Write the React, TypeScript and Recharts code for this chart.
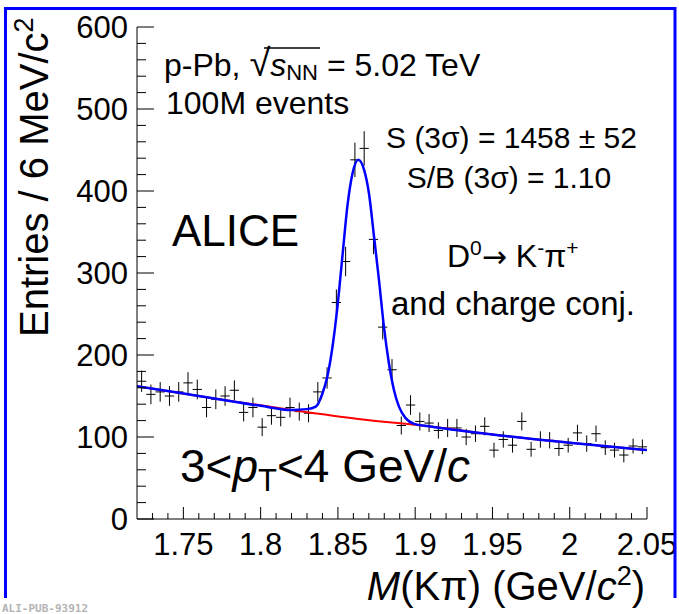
import React from 'react'
import { ComposedChart, XAxis, YAxis, Line, Scatter, ErrorBar } from 'recharts'

// histogram: bin centres (6 MeV bins), entries, stat. errors
const massBins = [
  1.723, 1.729, 1.735, 1.741, 1.747, 1.753, 1.759, 1.765, 1.771, 1.777,
  1.783, 1.789, 1.795, 1.801, 1.807, 1.813, 1.819, 1.825, 1.831, 1.837,
  1.843, 1.849, 1.855, 1.861, 1.867, 1.873, 1.879, 1.885, 1.891, 1.897,
  1.903, 1.909, 1.915, 1.921, 1.927, 1.933, 1.939, 1.945, 1.951, 1.957,
  1.963, 1.969, 1.975, 1.981, 1.987, 1.993, 1.999, 2.005, 2.011, 2.017,
  2.023, 2.029, 2.035, 2.041, 2.047,
]
const entries = [
  168, 152, 155, 150, 155, 166, 158, 136, 146, 150,
  157, 130, 136, 112, 126, 124, 136, 131, 129, 155,
  172, 264, 314, 438, 452, 341, 234, 182, 114, 139,
  119, 117, 108, 111, 111, 100, 104, 113, 84, 97,
  90, 119, 85, 97, 96, 86, 90, 105, 92, 104,
  87, 84, 78, 89, 88,
]
const entryErrors = [
  13, 12, 12, 12, 12, 13, 12, 12, 12, 12,
  12, 11, 12, 11, 11, 11, 12, 11, 11, 12,
  13, 16, 18, 21, 21, 18, 15, 13, 11, 12,
  11, 11, 10, 11, 11, 10, 10, 11, 9, 10,
  9, 11, 9, 10, 10, 9, 9, 10, 10, 10,
  9, 9, 9, 9, 9,
]
const halfBin = 0.003

// fit curves
const fitMass = [
  1.72, 1.77, 1.8, 1.82, 1.83, 1.8357, 1.84, 1.8432, 1.8465, 1.8497,
  1.8529, 1.8561, 1.8594, 1.8632, 1.8669, 1.8701, 1.8734, 1.8766, 1.8798, 1.883,
  1.8863, 1.8895, 1.8938, 1.8992, 1.9088, 1.95, 2.0, 2.05,
]
const fitTotal = [
  162, 147, 138, 133, 134, 137, 153, 174, 210, 259,
  320, 381, 421, 438, 426, 397, 344, 291, 234, 190,
  157, 137, 123, 116, 113, 103, 93, 84,
]
const bkgMass = [1.72, 1.77, 1.82, 1.8632, 1.9088, 1.95, 2.0, 2.05]
const bkgValues = [162, 147, 133, 122, 113, 103, 93, 84]

const xMajorTicks = [1.75, 1.8, 1.85, 1.9, 1.95, 2, 2.05]
const xTicks = [
  1.73, 1.74, 1.75, 1.76, 1.77, 1.78, 1.79, 1.8, 1.81, 1.82, 1.83, 1.84, 1.85,
  1.86, 1.87, 1.88, 1.89, 1.9, 1.91, 1.92, 1.93, 1.94, 1.95, 1.96, 1.97, 1.98,
  1.99, 2, 2.01, 2.02, 2.03, 2.04, 2.05,
]
const yMajorTicks = [0, 100, 200, 300, 400, 500, 600]
const yTicks = [
  0, 20, 40, 60, 80, 100, 120, 140, 160, 180, 200, 220, 240, 260, 280, 300,
  320, 340, 360, 380, 400, 420, 440, 460, 480, 500, 520, 540, 560, 580, 600,
]

const points = massBins.map((x, i) => ({ x, y: entries[i], ex: halfBin, ey: entryErrors[i] }))
const fitData = fitMass.map((x, i) => ({ x, y: fitTotal[i] }))
const bkgData = bkgMass.map((x, i) => ({ x, y: bkgValues[i] }))

const FONT = '"Liberation Sans", Arial, Helvetica, sans-serif'
const isMajor = (v: number, list: number[]) => list.some((m) => Math.abs(m - v) < 1e-6)

function BottomTick({ x, y, payload }: any) {
  const major = isMajor(payload.value, xMajorTicks)
  return (
    <g>
      <line x1={x} y1={y} x2={x} y2={y - (major ? 12 : 6)} stroke="#000" />
      {major && (
        <text x={x} y={y + 36} textAnchor="middle" fontSize={31} fontFamily={FONT} fill="#000">
          {String(payload.value)}
        </text>
      )}
    </g>
  )
}

function TopTick({ x, y, payload }: any) {
  const major = isMajor(payload.value, xMajorTicks)
  return <line x1={x} y1={y} x2={x} y2={y + (major ? 12 : 6)} stroke="#000" />
}

function LeftTick({ x, y, payload }: any) {
  const major = isMajor(payload.value, yMajorTicks)
  return (
    <g>
      <line x1={x} y1={y} x2={x + (major ? 17 : 9)} y2={y} stroke="#000" />
      {major && (
        <text x={x - 9} y={y + 11} textAnchor="end" fontSize={31} fontFamily={FONT} fill="#000">
          {String(payload.value)}
        </text>
      )}
    </g>
  )
}

function RightTick({ x, y, payload }: any) {
  const major = isMajor(payload.value, yMajorTicks)
  return <line x1={x} y1={y} x2={x - (major ? 15 : 8)} y2={y} stroke="#000" />
}

export default function App() {
  return (
    <div style={{ position: 'absolute', left: 0, top: 0, width: 679, height: 614, background: '#fff' }}>
      <ComposedChart width={679} height={614} margin={{ top: 27, right: 32, left: 0, bottom: 0 }}>
        <XAxis
          dataKey="x"
          type="number"
          domain={[1.72, 2.05]}
          allowDataOverflow
          ticks={xTicks}
          interval={0}
          tick={(p: any) => <BottomTick {...p} />}
          tickSize={0}
          tickMargin={0}
          tickLine={false}
          axisLine={{ stroke: '#000' }}
          height={95}
        />
        <XAxis
          xAxisId="top"
          orientation="top"
          dataKey="x"
          type="number"
          domain={[1.72, 2.05]}
          allowDataOverflow
          ticks={xTicks}
          interval={0}
          tick={(p: any) => <TopTick {...p} />}
          tickSize={0}
          tickMargin={0}
          tickLine={false}
          axisLine={{ stroke: '#000' }}
          height={0}
        />
        <YAxis
          type="number"
          domain={[0, 600]}
          allowDataOverflow
          ticks={yTicks}
          interval={0}
          tick={(p: any) => <LeftTick {...p} />}
          tickSize={0}
          tickMargin={0}
          tickLine={false}
          axisLine={{ stroke: '#000' }}
          width={137}
        />
        <YAxis
          yAxisId="right"
          orientation="right"
          type="number"
          domain={[0, 600]}
          allowDataOverflow
          ticks={yTicks}
          interval={0}
          tick={(p: any) => <RightTick {...p} />}
          tickSize={0}
          tickMargin={0}
          tickLine={false}
          axisLine={{ stroke: '#000' }}
          width={0}
        />
        <Scatter data={points} dataKey="y" shape={() => <g />} isAnimationActive={false}>
          <ErrorBar dataKey="ey" direction="y" width={0} stroke="#000" strokeWidth={1} isAnimationActive={false} />
          <ErrorBar dataKey="ex" direction="x" width={0} stroke="#000" strokeWidth={1} isAnimationActive={false} />
        </Scatter>
        <Line
          data={bkgData}
          dataKey="y"
          type="monotone"
          stroke="#ff0000"
          strokeWidth={2}
          dot={false}
          activeDot={false}
          isAnimationActive={false}
        />
        <Line
          data={fitData}
          dataKey="y"
          type="monotone"
          stroke="#0000ff"
          strokeWidth={2.5}
          dot={false}
          activeDot={false}
          isAnimationActive={false}
        />
      </ComposedChart>

      <svg
        width={679}
        height={614}
        style={{ position: 'absolute', left: 0, top: 0, pointerEvents: 'none' }}
        fontFamily={FONT}
        fill="#000"
      >
        <path d="M5.5 598 V8.5 H675 V598" fill="none" stroke="#0000ff" strokeWidth={3} />

        <text x={164} y={76} fontSize={32}>
          {'p-Pb, '}
          <tspan fontSize={38}>√</tspan>
          <tspan fontStyle="italic">s</tspan>
          <tspan fontSize={22} dy={4}>NN</tspan>
          <tspan dy={-4}>{' = 5.02 TeV'}</tspan>
        </text>
        <line x1={264} y1={48} x2={320} y2={48} stroke="#000" strokeWidth={1.5} />
        <text x={166} y={114} fontSize={32}>100M events</text>

        <text x={637} y={148} fontSize={30} textAnchor="end">S (3σ) = 1458 ± 52</text>
        <text x={509} y={188} fontSize={30} textAnchor="middle">S/B (3σ) = 1.10</text>

        <text x={172} y={246} fontSize={44}>ALICE</text>

        <text x={447} y={267} fontSize={32}>
          D<tspan fontSize={21} dy={-12}>0</tspan>
          <tspan dy={12} fontFamily='"DejaVu Sans", sans-serif' fontSize={30}>→</tspan>
          <tspan>{' K'}</tspan>
          <tspan fontSize={21} dy={-12}>-</tspan>
          <tspan dy={12}>π</tspan>
          <tspan fontSize={21} dy={-12}>+</tspan>
        </text>
        <text x={391} y={315} fontSize={33}>and charge conj.</text>

        <text x={180} y={482} fontSize={46}>
          {'3<'}
          <tspan fontStyle="italic">p</tspan>
          <tspan fontSize={31} dy={9}>T</tspan>
          <tspan dy={-9}>{'<4 GeV/'}</tspan>
          <tspan fontStyle="italic">c</tspan>
        </text>

        <text transform="translate(48,337) rotate(-90)" fontSize={40}>
          Entries / 6 MeV/c<tspan fontSize={27} dy={-15}>2</tspan>
        </text>

        <text x={645} y={600} fontSize={40} textAnchor="end">
          <tspan fontStyle="italic">M</tspan>
          {'(Kπ) (GeV/'}
          <tspan fontStyle="italic">c</tspan>
          <tspan fontSize={27} dy={-15}>2</tspan>
          <tspan dy={15}>)</tspan>
        </text>

        <text x={2} y={612} fontSize={11} fontFamily='"DejaVu Sans Mono", monospace' fontWeight="bold" fill="#b4b4b4">
          ALI-PUB-93912
        </text>
      </svg>
    </div>
  )
}
